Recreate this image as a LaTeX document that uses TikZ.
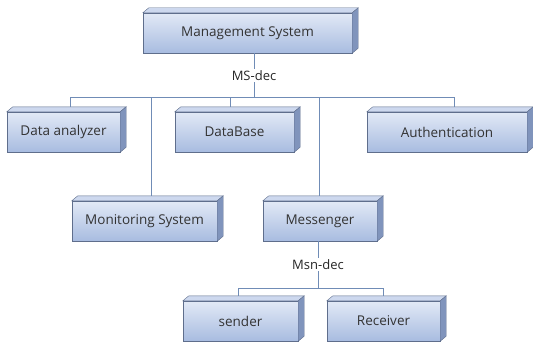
\documentclass[tikz,border=0pt]{standalone}
\usepackage{fontspec}
\setmainfont{Open Sans}
\usetikzlibrary{calc}
\definecolor{boxline}{RGB}{95,110,140}
\definecolor{boxtop}{RGB}{226,233,246}
\definecolor{boxbot}{RGB}{168,188,224}
\definecolor{boxlid}{RGB}{205,216,238}
\definecolor{boxside}{RGB}{128,148,188}
\definecolor{linkcol}{RGB}{112,140,182}
\tikzset{box/.style={rectangle,draw=boxline,top color=boxtop,bottom color=boxbot,
		minimum height=40pt,minimum width=#1,inner sep=0pt,text=black!80,font=\fontsize{13.5}{15}\selectfont},
	box/.default=110pt,
	lid/.style={draw=boxline,fill=boxlid},
	side/.style={draw=boxline,fill=boxside},
	link/.style={draw=linkcol,line width=0.8pt},
	lbl/.style={fill=white,inner sep=1.5pt,text=black!85,font=\fontsize{13}{15}\selectfont}}

\begin{document}
\begin{tikzpicture}[x=1pt,y=-1pt]
		\useasboundingbox (0,0) rectangle (533,345);
		
		\coordinate (MS) at (247.5,33);
		\coordinate (DA) at (63.5,132);
		\coordinate (DB) at (234.5,132);
		\coordinate (AU) at (447,132);
		\coordinate (MON) at (144.5,221);
		\coordinate (MSG) at (320,221);
		\coordinate (SND) at (240.5,321);
		\coordinate (RCV) at (383.5,321);
	
		\node [box=209pt] (ms) at (MS) {Management System};
		\node [box=113pt] (da) at (DA) {Data analyzer};
		\node [box=119pt] (db) at (DB) {DataBase};
		\node [box=160pt] (au) at (AU) {Authentication};
		\node [box=145pt] (mon) at (MON) {Monitoring System};
		\node [box=114pt] (msg) at (MSG) {Messenger};
		\node [box=115pt] (snd) at (SND) {sender};
		\node [box=113pt] (rcv) at (RCV) {Receiver};
		
		% lid and side of every box
		\foreach \n in {ms,da,db,au,mon,msg,snd,rcv}{
			\draw [lid] (\n.north west) -- ++(6,-5) -- ($(\n.north east)+(6,-5)$)
				-- (\n.north east) -- cycle;
			\draw [side] (\n.north east) -- ++(6,-5) -- ($(\n.south east)+(6,-5)$)
				-- (\n.south east) -- cycle;
		}
		
		\coordinate (msbus) at ($(ms.south)+(6.5,44)$);
		\coordinate (msnbus) at ($(msg.south)+(-2,47)$);
		
		\draw [link] ([xshift=6.5pt]ms.south) -- (msbus);
		\draw [link] ([shift={(6.5,-5)}]da.north) |- (msbus) -| ([shift={(7,-5)}]au.north);
		\draw [link] (msbus) -| ([shift={(-4.5,-5)}]db.north);
		\draw [link] (msbus) -| ([shift={(6.5,-5)}]mon.north);
		\draw [link] (msbus) -| ([shift={(-1,-5)}]msg.north);
		\node [lbl] (msdec) at ($([xshift=6.5pt]ms.south)!0.5!(msbus)$) {MS-dec};
		
		\draw [link] ([xshift=-2pt]msg.south) -- (msnbus);
		\draw [link] ([shift={(-2.5,-5)}]snd.north) |- (msnbus) -| ([shift={(-0.5,-5)}]rcv.north);
		\node [lbl] (msndec) at ($([xshift=-2pt]msg.south)!0.5!(msnbus)$) {Msn-dec};
		
	\end{tikzpicture}
\end{document}
